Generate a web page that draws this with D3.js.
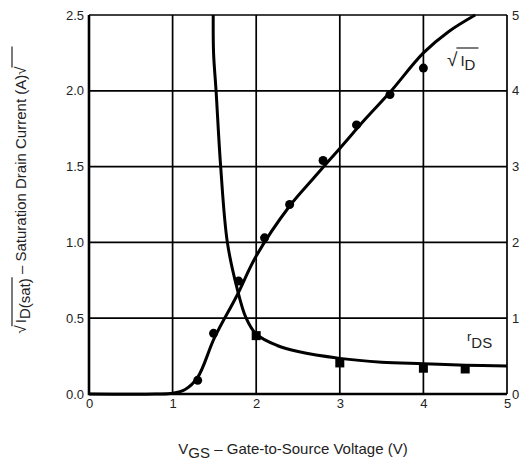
<!DOCTYPE html>
<html>
<head>
<meta charset="utf-8">
<script src="https://cdn.jsdelivr.net/npm/d3@7"></script>
<style>
  body { margin: 0; background: #fff; }
  svg { display: block; font-family: "Liberation Sans", Arial, sans-serif; }
</style>
</head>
<body>
<svg id="chart" width="525" height="462"></svg>
<script>
// sqrt(I_D) measured points (left axis) and fitted curve
const sqrtIdPoints = [
  [1.3, 0.09], [1.49, 0.40], [1.79, 0.745], [2.1, 1.03], [2.4, 1.25],
  [2.8, 1.54], [3.2, 1.775], [3.6, 1.975], [4.0, 2.15]
];
const sqrtIdCurve = [
  [0, 0], [0.8, 0], [1.0, 0.005], [1.15, 0.03], [1.3, 0.11], [1.5, 0.37],
  [1.77, 0.65], [2.0, 0.91], [2.4, 1.24], [2.68, 1.42],
  [3.0, 1.62], [3.3, 1.81], [3.6, 1.99], [4.0, 2.25], [4.3, 2.39], [4.62, 2.5]
];
// r_DS measured points (right axis) and fitted curve
const rdsPoints = [[2.0, 0.77], [3.0, 0.41], [4.0, 0.34], [4.5, 0.33]];
const rdsCurve = [
  [1.486, 5], [1.49, 4.5], [1.52, 4], [1.575, 3], [1.655, 2], [1.77, 1.4],
  [1.88, 1.0], [2.0, 0.79], [2.25, 0.64], [2.5, 0.56], [3.0, 0.47],
  [3.5, 0.42], [4.0, 0.40], [4.5, 0.38], [5.0, 0.37]
];
const xTicks = [0, 1, 2, 3, 4, 5];
const yLeftTicks = [0, 0.5, 1.0, 1.5, 2.0, 2.5];
const yRightTicks = [0, 1, 2, 3, 4, 5];

const svg = d3.select('#chart');
const x = d3.scaleLinear().domain([0, 5]).range([89, 507]);
const yL = d3.scaleLinear().domain([0, 2.5]).range([394, 15]);
const yR = d3.scaleLinear().domain([0, 5]).range([394, 15]);

// grid
const grid = svg.append('g').attr('class', 'grid').attr('stroke', '#000').attr('stroke-width', 1.7);
grid.selectAll('line.v')
  .data(xTicks.slice(1))
  .enter()
  .append('line')
  .attr('x1', (d) => x(d)).attr('x2', (d) => x(d))
  .attr('y1', yL(0)).attr('y2', yL(2.5));
grid.selectAll('line.h')
  .data(yLeftTicks.slice(1))
  .enter()
  .append('line')
  .attr('x1', x(0)).attr('x2', x(5))
  .attr('y1', (d) => yL(d)).attr('y2', (d) => yL(d));
// heavier left and bottom axis
svg.append('path')
  .attr('d', `M${x(0)},${yL(2.5)}V${yL(0)}H${x(5)}`)
  .attr('fill', 'none')
  .attr('stroke', '#000')
  .attr('stroke-width', 2.6);

// tick labels via axes
const tickStyle = (g) => {
  g.select('.domain').remove();
  g.selectAll('.tick line').remove();
  g.selectAll('.tick text').attr('fill', '#222').style('font-size', '13px');
};
svg.append('g')
  .attr('transform', `translate(${x(0) - 3},0)`)
  .call(d3.axisLeft(yL).tickValues(yLeftTicks).tickFormat(d3.format('.1f')).tickSize(0).tickPadding(2))
  .call(tickStyle);
svg.append('g')
  .attr('transform', `translate(${x(5) + 3},0)`)
  .call(d3.axisRight(yR).tickValues(yRightTicks).tickFormat(d3.format('d')).tickSize(0).tickPadding(2))
  .call(tickStyle);
svg.append('g')
  .attr('transform', `translate(0,${yL(0) + 3})`)
  .call(d3.axisBottom(x).tickValues(xTicks).tickFormat(d3.format('d')).tickSize(0).tickPadding(2))
  .call(tickStyle);

// curves
const lineL = d3.line().x((d) => x(d[0])).y((d) => yL(d[1])).curve(d3.curveCatmullRom.alpha(0.5));
const lineR = d3.line().x((d) => x(d[0])).y((d) => yR(d[1])).curve(d3.curveCatmullRom.alpha(0.5));
svg.append('path').attr('d', lineL(sqrtIdCurve)).attr('fill', 'none').attr('stroke', '#000').attr('stroke-width', 3);
svg.append('path').attr('d', lineR(rdsCurve)).attr('fill', 'none').attr('stroke', '#000').attr('stroke-width', 3);

svg.append('g')
  .selectAll('circle')
  .data(sqrtIdPoints)
  .enter()
  .append('circle')
  .attr('cx', (d) => x(d[0]))
  .attr('cy', (d) => yL(d[1]))
  .attr('r', 4.5)
  .attr('fill', '#000');
svg.append('g')
  .selectAll('rect')
  .data(rdsPoints)
  .enter()
  .append('rect')
  .attr('x', (d) => x(d[0]) - 4.5)
  .attr('y', (d) => yR(d[1]) - 4.5)
  .attr('width', 9)
  .attr('height', 9)
  .attr('fill', '#000');

// curve labels
const idLab = svg.append('text').attr('x', 447).attr('y', 66).attr('fill', '#222').style('font-size', '15px');
idLab.append('tspan').style('font-size', '19px').text('√');
idLab.append('tspan').attr('dx', 3).text('I');
idLab.append('tspan').attr('dy', 4).text('D');
{
  const n = idLab.node();
  const x1 = n.getEndPositionOfChar(0).x;
  svg.append('line').attr('x1', x1 - 1).attr('x2', x1 + 21).attr('y1', 48).attr('y2', 48)
    .attr('stroke', '#222').attr('stroke-width', 1.2);
}
const rLab = svg.append('text').attr('x', 467).attr('y', 341).attr('fill', '#222').style('font-size', '13px');
rLab.append('tspan').text('r');
rLab.append('tspan').attr('dy', 7).style('font-size', '15px').text('DS');

// axis titles
const xt = svg.append('text').attr('x', 293).attr('y', 454).attr('text-anchor', 'middle')
  .attr('fill', '#222').style('font-size', '15px');
xt.append('tspan').text('V');
xt.append('tspan').attr('dy', 4).text('GS');
xt.append('tspan').attr('dy', -4).text(' – Gate-to-Source Voltage (V)');

const ytg = svg.append('g').attr('transform', 'translate(26,200) rotate(-90)');
const yt = ytg.append('text').attr('x', 0).attr('y', 0).attr('text-anchor', 'middle')
  .attr('fill', '#222').style('font-size', '15px');
yt.append('tspan').text('√');
yt.append('tspan').attr('dx', 2).text('I');
yt.append('tspan').attr('dy', 4).text('D(sat)');
yt.append('tspan').attr('dy', -4).text(' – Saturation Drain Current (A)');
yt.append('tspan').text('√');
{
  const n = yt.node();
  const total = n.getNumberOfChars();
  const a = n.getEndPositionOfChar(0).x;
  const b = n.getEndPositionOfChar(7).x;
  const c = n.getEndPositionOfChar(total - 1).x;
  ytg.append('line').attr('x1', a - 1).attr('x2', b + 1).attr('y1', -14).attr('y2', -14)
    .attr('stroke', '#222').attr('stroke-width', 1.2);
  ytg.append('line').attr('x1', c - 1).attr('x2', c + 20).attr('y1', -14).attr('y2', -14)
    .attr('stroke', '#222').attr('stroke-width', 1.2);
}
</script>
</body>
</html>
